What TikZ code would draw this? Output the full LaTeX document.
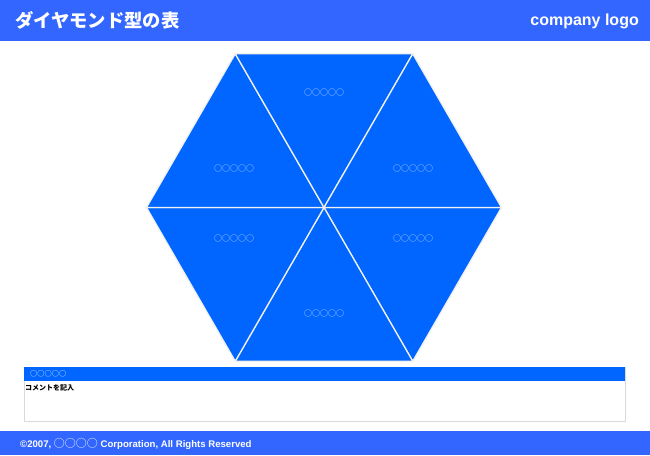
\documentclass[tikz,border=0pt]{standalone}
\usepackage{fontspec}
\setmainfont{Liberation Sans}
\newfontfamily\jpfont{Noto Sans CJK JP}
\usetikzlibrary{positioning}

\definecolor{barblue}{HTML}{3366FF}
\definecolor{hexblue}{HTML}{0066FF}

\begin{document}
\begin{tikzpicture}
		[x=1pt,y=-1pt,line join=round,
		%Styles
		bar/.style={fill=barblue,draw=none},
		wedge/.style={fill=hexblue,draw=gray!12,line width=1.3pt},
		wedge label/.style={text=white!85!hexblue,inner sep=0pt,font=\jpfont\fontsize{8}{9}\selectfont},
		bar text/.style={text=white,inner sep=0pt,anchor=west}
		]
		\useasboundingbox (0,0) rectangle (650,455);
		
		%Header and footer
		\fill[bar] (0,0) rectangle (650,41);
		\node[bar text,font=\jpfont\bfseries\fontsize{18.3}{19}\selectfont] (title) at (15,20.5) {ダイヤモンド型の表};
		\node[bar text,anchor=east,font=\bfseries\fontsize{16}{17}\selectfont] (logo) at (639,21) {company logo};
		
		\fill[bar] (0,431) rectangle (650,455);
		\node[bar text,font=\bfseries\fontsize{9.6}{10}\selectfont] (copyright) at (20,443.5) {©2007, {\jpfont\mdseries\fontsize{11}{11}\selectfont ○○○○} Corporation, All Rights Reserved};
		
		%The hexagon
		\coordinate (c) at (324,207.5);
		\foreach \i in {0,...,5}
			\path (c) ++(\i*60:177.5) coordinate (v\i);
		\foreach \i [evaluate=\i as \j using {int(mod(\i+1,6))}] in {0,...,5}
			\filldraw[wedge] (c) -- (v\i) -- (v\j) -- cycle;
		
		\node[wedge label] (top) at (324,92) {○○○○○};
		\node[wedge label] (upper left) at (234,168) {○○○○○};
		\node[wedge label] (upper right) at (413,168) {○○○○○};
		\node[wedge label] (lower left) at (234,238) {○○○○○};
		\node[wedge label] (lower right) at (413,238) {○○○○○};
		\node[wedge label] (bottom) at (324,313) {○○○○○};
		
		%Comment box
		\draw[gray!30,line width=0.8pt] (24,367) rectangle (625,421);
		\fill[hexblue] (24,367) rectangle (625,381);
		\node[bar text,font=\jpfont\fontsize{7.2}{8}\selectfont] (heading) at (30,374) {○○○○○};
		\node[bar text,text=black,font=\jpfont\bfseries\fontsize{7}{8}\selectfont] (comment) at (25,388) {コメントを記入};
	\end{tikzpicture}
\end{document}
